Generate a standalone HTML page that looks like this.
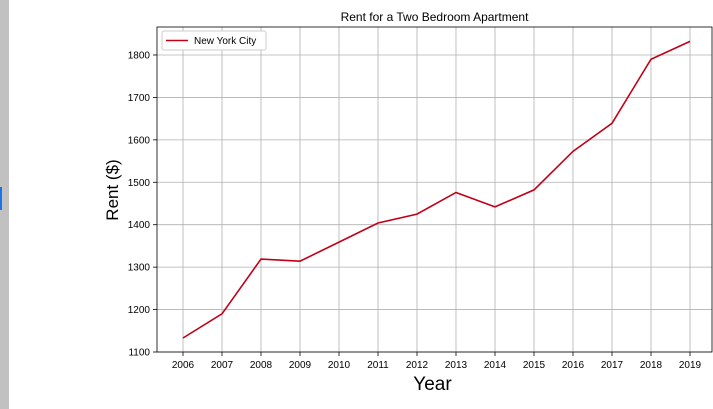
<!DOCTYPE html>
<html><head><meta charset="utf-8"><style>
body{margin:0;width:713px;height:409px;background:#fff;overflow:hidden;font-family:"Liberation Sans",sans-serif;position:relative}
svg text{font-family:"Liberation Sans",sans-serif}
</style></head><body>
<div style="position:absolute;left:0;top:0;width:9px;height:409px;background:#c1c1c1"></div>
<div style="position:absolute;left:0;top:187px;width:2px;height:23px;background:#1a73e8"></div>
<svg id="chart" width="713" height="409" style="position:absolute;left:0;top:0"></svg>
<script>
const years=[2006,2007,2008,2009,2010,2011,2012,2013,2014,2015,2016,2017,2018,2019];
const rent=[1133,1190,1319,1314,1359,1404,1425,1476,1442,1482,1573,1639,1790,1832];
const yTicks=[1100,1200,1300,1400,1500,1600,1700,1800];
const L=157,R=712,T=27,B=352;
const x=v=>183+(v-2006)*39;
const y=v=>352-(v-1100)*0.4243;
const svg=document.getElementById('chart');
const NS='http://www.w3.org/2000/svg';
function mk(t,a){const e=document.createElementNS(NS,t);for(const k in a)e.setAttribute(k,a[k]);svg.appendChild(e);return e;}
years.forEach(v=>{
 const g=mk('line',{x1:x(v),x2:x(v),y1:T,y2:B,stroke:'#b0b0b0','stroke-width':0.8});
 
 
 const tk=mk('line',{x1:x(v),x2:x(v),y1:B,y2:B+4,stroke:'#000','stroke-width':0.8});
 
 
 const t=mk('text',{x:x(v),y:B+16,'font-size':10,'text-anchor':'middle'});t.textContent=v;
 
 
});
yTicks.forEach(v=>{
 const g=mk('line',{x1:L,x2:R,y1:y(v),y2:y(v),stroke:'#b0b0b0','stroke-width':0.8});
 
 
 const tk=mk('line',{x1:L-4,x2:L,y1:y(v),y2:y(v),stroke:'#000','stroke-width':0.8});
 
 
 const t=mk('text',{x:L-7,y:y(v)+3.5,'font-size':10,'text-anchor':'end'});t.textContent=v;
 
 
});
const frame=mk('rect',{x:L,y:T,width:R-L,height:B-T,fill:'none',stroke:'#000','stroke-width':0.8});


const pts=years.map((v,i)=>x(v)+','+y(rent[i])).join(' ');
const ln=mk('polyline',{points:pts,fill:'none',stroke:'#c00018','stroke-width':1.6});


const lg=mk('rect',{x:162,y:31,width:104,height:19,fill:'#fff',stroke:'#ccc',rx:2});


const ll=mk('line',{x1:166,x2:188,y1:40.5,y2:40.5,stroke:'#c00018','stroke-width':1.6});


const lt=mk('text',{x:194,y:44,'font-size':10});lt.textContent='New York City';


const tt=mk('text',{x:(L+R)/2,y:21,'font-size':12,'text-anchor':'middle'});tt.textContent='Rent for a Two Bedroom Apartment';


const xt=mk('text',{x:(L+R)/2-2,y:390,'font-size':19,'text-anchor':'middle'});xt.textContent='Year';


const yt=mk('text',{x:0,y:0,'font-size':17,'text-anchor':'middle',transform:'translate(118,190) rotate(-90)'});yt.textContent='Rent ($)';


</script>
</body></html>
